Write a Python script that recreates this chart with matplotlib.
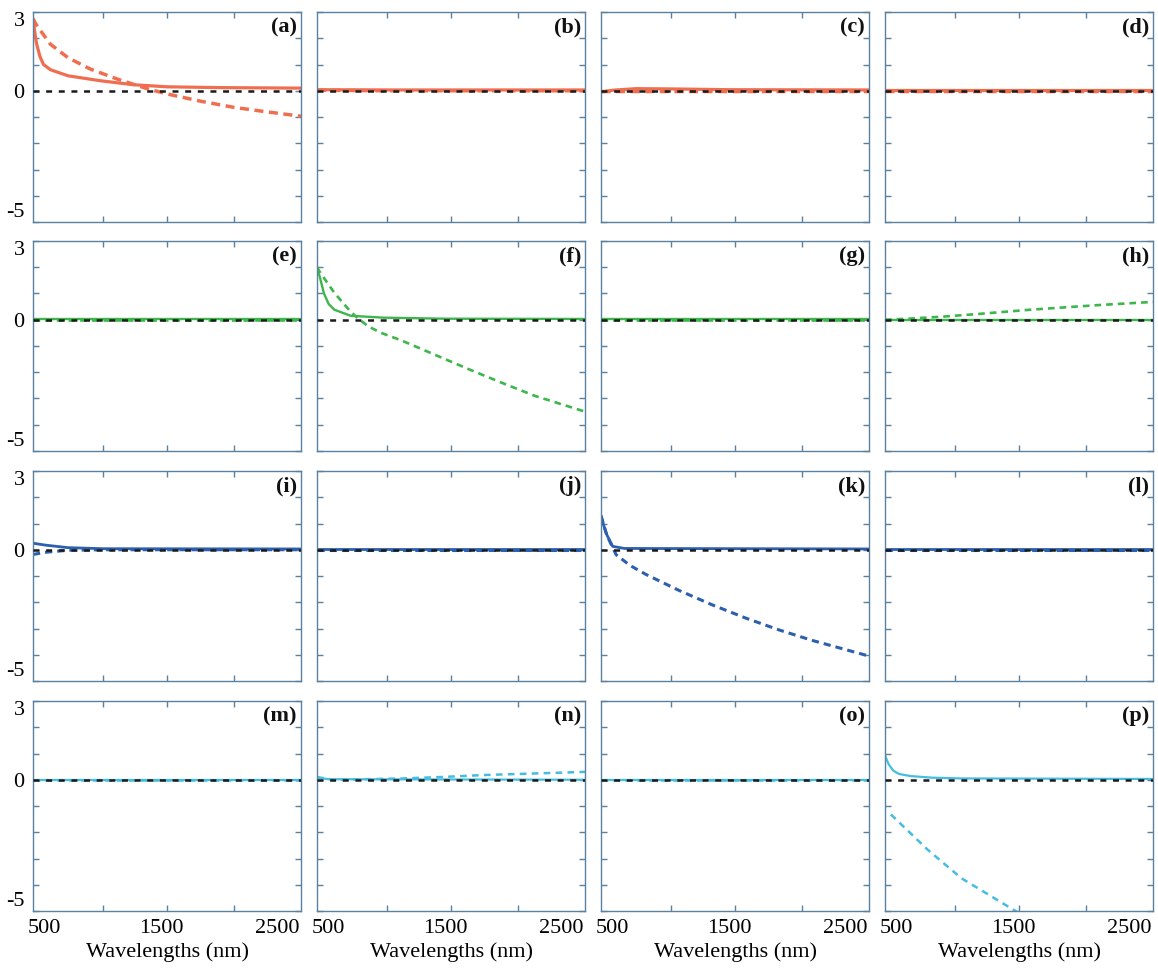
import matplotlib
matplotlib.use("Agg")
import matplotlib.pyplot as plt

plt.rcParams['font.family'] = ['Liberation Serif', 'DejaVu Serif']
plt.rcParams['lines.scale_dashes'] = False

# ---------------- data ----------------
panel_labels = ['(a)', '(b)', '(c)', '(d)',
                '(e)', '(f)', '(g)', '(h)',
                '(i)', '(j)', '(k)', '(l)',
                '(m)', '(n)', '(o)', '(p)']
row_colors = ['#f06e50', '#3db64c', '#2c5fae', '#45bde0']

x_limits = [400, 2700]
y_limits = [-5, 3]
x_tick_labels = [500, 1500, 2500]
x_tick_marks = [1000, 1550, 2125]
y_tick_marks = [-5, -4, -3, -2, -1, 0, 1, 2, 3]
y_tick_labels = ['-5', '', '', '', '', '0', '', '', '3']
zero_wl = [400, 2700]
zero_val = [0, 0]

# (a)
a_solid_wl = [400, 430, 460, 490, 550, 700, 980, 1260, 1550, 2000, 2700]
a_solid = [2.7, 1.8, 1.3, 1.0, 0.8, 0.57, 0.38, 0.23, 0.15, 0.12, 0.1]
a_dash_wl = [400, 430, 550, 700, 890, 1120, 1400, 1580, 1840, 2120, 2400, 2700]
a_dash = [2.75, 2.5, 1.77, 1.26, 0.83, 0.45, 0.05, -0.15, -0.4, -0.63, -0.8, -0.97]
# (b)
b_solid_wl = [400, 1000, 2700]
b_solid = [0.04, 0.03, 0.03]
b_dash_wl = [400, 1000, 2700]
b_dash = [0.02, 0.0, 0.0]
# (c)
c_solid_wl = [400, 500, 700, 1000, 1500, 2700]
c_solid = [-0.05, 0.02, 0.08, 0.07, 0.04, 0.03]
c_dash_wl = [400, 1000, 2700]
c_dash = [0.0, 0.0, 0.0]
# (d)
d_solid_wl = [400, 1000, 2700]
d_solid = [0.03, 0.03, 0.03]
d_dash_wl = [400, 1000, 2700]
d_dash = [0.0, 0.0, 0.0]
# (e)
e_solid_wl = [400, 1000, 2700]
e_solid = [0.02, 0.02, 0.02]
e_dash_wl = [400, 1000, 2700]
e_dash = [0.0, 0.0, 0.0]
# (f)
f_solid_wl = [400, 420, 460, 500, 550, 690, 970, 1500, 2700]
f_solid = [1.9, 1.7, 1.0, 0.6, 0.38, 0.15, 0.08, 0.04, 0.03]
f_dash_wl = [400, 430, 550, 690, 760, 840, 950, 1120, 1410, 1700, 1985, 2270, 2700]
f_dash = [2.0, 1.78, 1.02, 0.3, 0.02, -0.25, -0.5, -0.78, -1.33, -1.88, -2.4, -2.9, -3.5]
# (g)
g_solid_wl = [400, 1000, 2700]
g_solid = [0.02, 0.02, 0.02]
g_dash_wl = [400, 1000, 2700]
g_dash = [0.0, 0.0, 0.0]
# (h)
h_solid_wl = [400, 1000, 2700]
h_solid = [0.0, 0.0, 0.0]
h_dash_wl = [400, 600, 900, 1200, 1640, 2200, 2700]
h_dash = [0.0, 0.04, 0.12, 0.22, 0.38, 0.55, 0.68]
# (i)
i_solid_wl = [400, 500, 700, 1000, 2700]
i_solid = [0.25, 0.18, 0.08, 0.04, 0.03]
i_dash_wl = [400, 500, 700, 1000, 2700]
i_dash = [-0.18, -0.1, -0.02, 0.0, 0.0]
# (j)
j_solid_wl = [400, 1000, 2700]
j_solid = [0.02, 0.02, 0.02]
j_dash_wl = [400, 1000, 2700]
j_dash = [0.0, 0.0, 0.0]
# (k)
k_solid_wl = [400, 425, 450, 500, 600, 2700]
k_solid = [1.3, 0.9, 0.57, 0.13, 0.05, 0.03]
k_dash_wl = [400, 450, 530, 650, 790, 1070, 1355, 1640, 1925, 2210, 2700]
k_dash = [1.3, 0.55, -0.19, -0.6, -0.95, -1.55, -2.1, -2.6, -3.05, -3.45, -4.05]
# (l)
l_solid_wl = [400, 1000, 2700]
l_solid = [0.02, 0.02, 0.02]
l_dash_wl = [400, 1000, 2700]
l_dash = [0.0, 0.0, 0.0]
# (m)
m_solid_wl = [400, 1000, 2700]
m_solid = [0.0, 0.0, 0.0]
m_dash_wl = [400, 1000, 2700]
m_dash = [0.0, 0.0, 0.0]
# (n)
n_solid_wl = [400, 500, 2700]
n_solid = [0.08, 0.02, 0.0]
n_dash_wl = [400, 550, 800, 1140, 1500, 1830, 2200, 2700]
n_dash = [0.1, 0.0, 0.02, 0.05, 0.11, 0.18, 0.23, 0.3]
# (o)
o_solid_wl = [400, 1000, 2700]
o_solid = [0.0, 0.0, 0.0]
o_dash_wl = [400, 1000, 2700]
o_dash = [0.0, 0.0, 0.0]
# (p)
p_solid_wl = [400, 430, 470, 520, 620, 800, 1050, 2700]
p_solid = [0.92, 0.6, 0.35, 0.22, 0.14, 0.08, 0.05, 0.03]
p_dash_wl = [450, 765, 1055, 1520, 1600]
p_dash = [-1.32, -2.66, -3.75, -5.0, -5.2]

solids = [(a_solid_wl, a_solid), (b_solid_wl, b_solid), (c_solid_wl, c_solid), (d_solid_wl, d_solid),
          (e_solid_wl, e_solid), (f_solid_wl, f_solid), (g_solid_wl, g_solid), (h_solid_wl, h_solid),
          (i_solid_wl, i_solid), (j_solid_wl, j_solid), (k_solid_wl, k_solid), (l_solid_wl, l_solid),
          (m_solid_wl, m_solid), (n_solid_wl, n_solid), (o_solid_wl, o_solid), (p_solid_wl, p_solid)]
dashes = [(a_dash_wl, a_dash), (b_dash_wl, b_dash), (c_dash_wl, c_dash), (d_dash_wl, d_dash),
          (e_dash_wl, e_dash), (f_dash_wl, f_dash), (g_dash_wl, g_dash), (h_dash_wl, h_dash),
          (i_dash_wl, i_dash), (j_dash_wl, j_dash), (k_dash_wl, k_dash), (l_dash_wl, l_dash),
          (m_dash_wl, m_dash), (n_dash_wl, n_dash), (o_dash_wl, o_dash), (p_dash_wl, p_dash)]

# ---------------- layout ----------------
W, H = 1158, 968
fig = plt.figure(figsize=(W / 100, H / 100), dpi=100)
col_left = [33, 317, 601, 885]
row_top = [12, 241, 471, 701]
pw, ph = 268, 210
spine_col = '#5a82a0'
row_lw = [2.3, 1.7, 2.0, 1.6]
row_dash = [(0, (6.5, 4.0)), (0, (4.8, 3.6)), (0, (5.2, 3.6)), (0, (4.8, 3.8))]

for idx in range(16):
    r, c = divmod(idx, 4)
    ax = fig.add_axes([col_left[c] / W, 1 - (row_top[r] + ph) / H, pw / W, ph / H])
    col = row_colors[r]
    sx, sy = solids[idx]
    dx, dy = dashes[idx]
    ax.plot(sx, sy, color=col, lw=row_lw[r], solid_capstyle='butt', zorder=2)
    ax.plot(dx, dy, color=col, lw=row_lw[r] + 0.2, linestyle=row_dash[r], zorder=2)
    ax.plot(zero_wl, zero_val, color='#1a1a1a', lw=1.8, linestyle=(0, (4.3, 4.8)), zorder=3)
    ax.set_xlim(x_limits)
    ax.set_ylim(y_limits)

    ax.set_xticks(x_tick_labels)
    ax.set_xticks(x_tick_marks, minor=True)
    ax.set_yticks(y_tick_marks)
    ax.tick_params(axis='x', which='major', length=0, labelsize=16, pad=6)
    ax.tick_params(axis='x', which='minor', length=4, direction='in', top=True, bottom=True,
                   color=spine_col, width=1)
    ax.tick_params(axis='y', which='major', length=4, direction='in', left=True, right=True,
                   color=spine_col, width=1, labelsize=16, pad=6)
    if c == 0:
        ax.set_yticklabels(y_tick_labels)
        tl = ax.get_yticklabels()
        tl[0].set_va('bottom')
        tl[-1].set_va('top')
    else:
        ax.set_yticklabels([])
    if r == 3:
        ax.set_xticklabels([str(v) for v in x_tick_labels])
        ax.set_xlabel('Wavelengths (nm)', fontsize=16, labelpad=3)
    else:
        ax.set_xticklabels([])
    for s in ax.spines.values():
        s.set_color(spine_col)
        s.set_linewidth(1.0)
    ax.text(0.985, 0.975, panel_labels[idx], transform=ax.transAxes, ha='right', va='top',
            fontsize=16, fontweight='bold', color='#111111')

fig.savefig('out.png', dpi=100)
